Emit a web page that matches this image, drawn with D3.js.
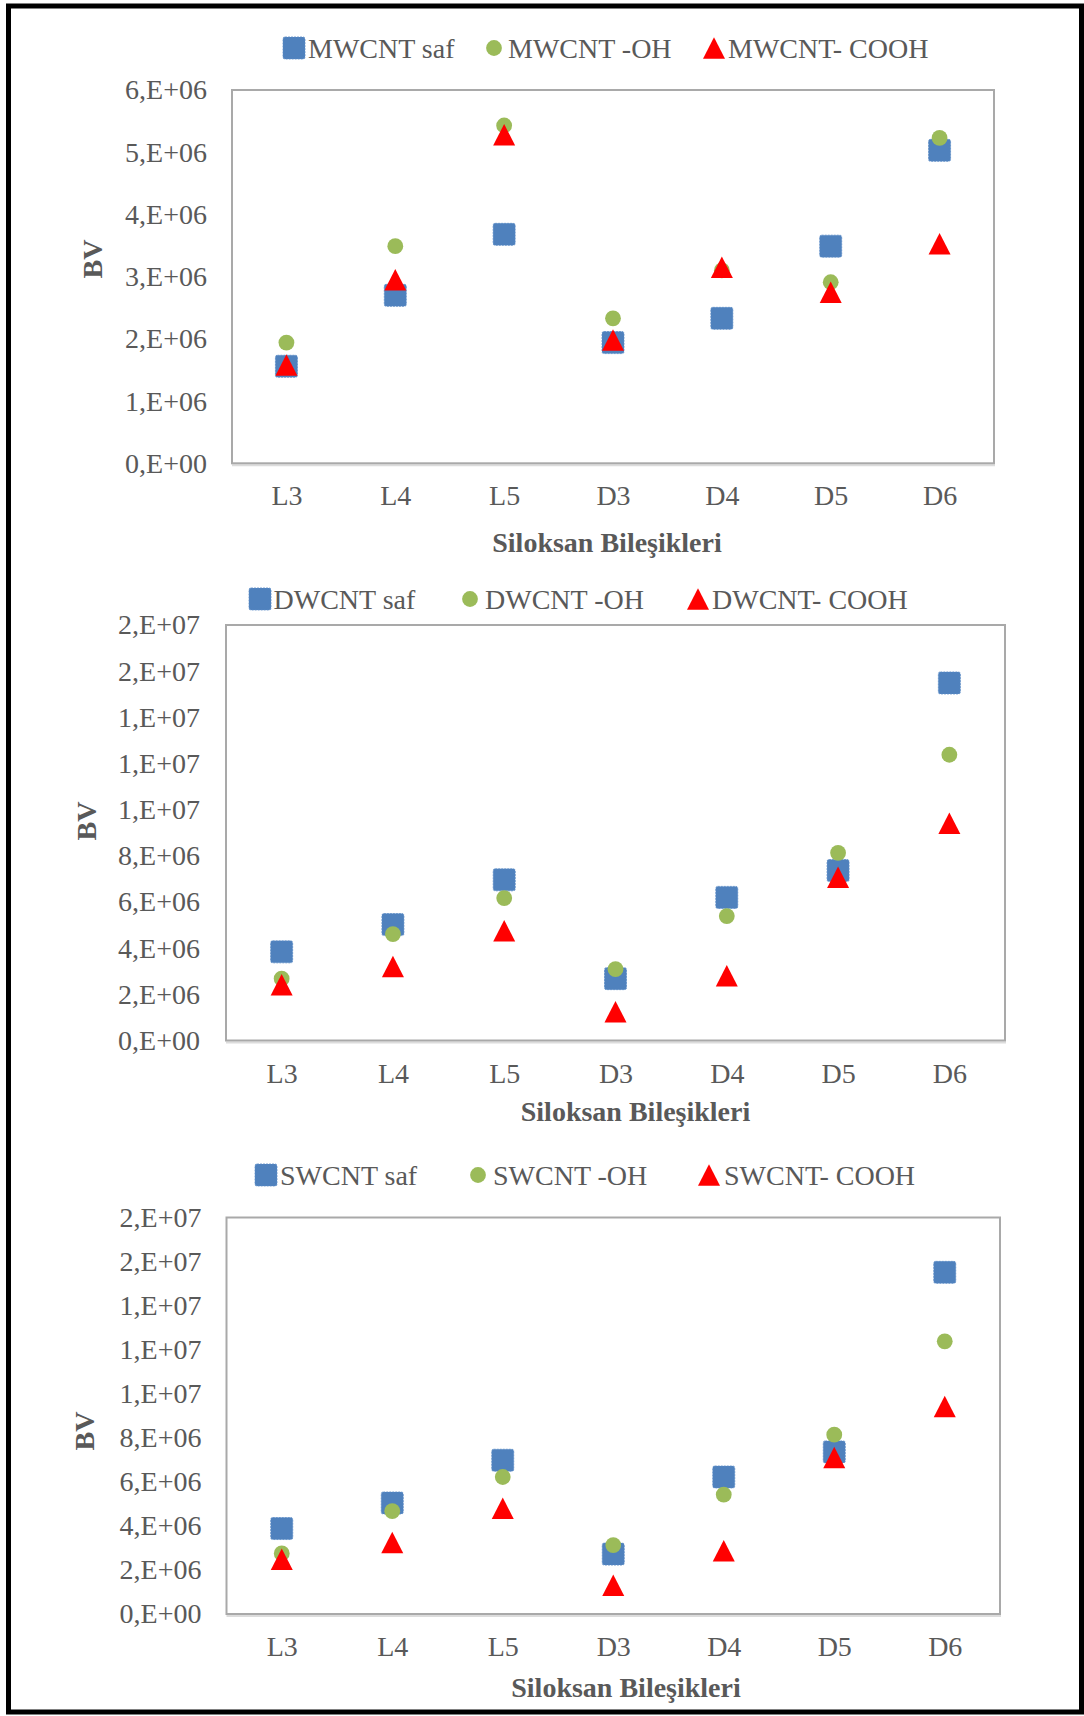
<!DOCTYPE html>
<html>
<head>
<meta charset="utf-8">
<script src="https://cdn.jsdelivr.net/npm/d3@7"></script>
<style>
  html, body { margin: 0; padding: 0; background: #ffffff; }
  svg { display: block; }
  text { font-family: "Liberation Serif", "Times New Roman", serif; fill: #595959; }
</style>
</head>
<body>
<svg id="fig" width="1084" height="1716"></svg>
<script>
// Siloxane compounds on the x axis
const categories = ["L3", "L4", "L5", "D3", "D4", "D5", "D6"];

// MWCNT series
const mwcntSaf  = [1.56e6, 2.70e6, 3.68e6, 1.94e6, 2.33e6, 3.49e6, 5.03e6];
const mwcntOH   = [1.94e6, 3.49e6, 5.43e6, 2.33e6, 3.10e6, 2.91e6, 5.23e6];
const mwcntCOOH = [1.58e6, 2.95e6, 5.28e6, 1.98e6, 3.15e6, 2.75e6, 3.53e6];

// DWCNT series
const dwcntSaf  = [3.84e6, 5.02e6, 6.96e6, 2.68e6, 6.20e6, 7.36e6, 15.49e6];
const dwcntOH   = [2.68e6, 4.61e6, 6.17e6, 3.09e6, 5.39e6, 8.13e6, 12.38e6];
const dwcntCOOH = [2.41e6, 3.21e6, 4.75e6, 1.25e6, 2.80e6, 7.07e6, 9.41e6];

// SWCNT series
const swcntSaf  = [3.88e6, 5.04e6, 6.98e6, 2.72e6, 6.22e6, 7.36e6, 15.51e6];
const swcntOH   = [2.75e6, 4.67e6, 6.22e6, 3.13e6, 5.42e6, 8.14e6, 12.38e6];
const swcntCOOH = [2.49e6, 3.25e6, 4.80e6, 1.31e6, 2.87e6, 7.10e6, 9.42e6];

// Legend names
const mwcntNames = ["MWCNT saf", "MWCNT -OH", "MWCNT- COOH"];
const dwcntNames = ["DWCNT saf", "DWCNT -OH", "DWCNT- COOH"];
const swcntNames = ["SWCNT saf", "SWCNT -OH", "SWCNT- COOH"];

// Y tick values
const mwcntTicks = [0, 1e6, 2e6, 3e6, 4e6, 5e6, 6e6];
const cntTicks   = [0, 2e6, 4e6, 6e6, 8e6, 10e6, 12e6, 14e6, 16e6, 18e6];

const xTitle = "Siloksan Bileşikleri";
const yTitle = "BV";

const FONT = 28;
const colors = { square: "#4f81bd", circle: "#9bbb59", triangle: "#ff0000" };

// Spreadsheet-style scientific label, e.g. 1.6e7 -> "2,E+07"
function sciLabel(v) {
  if (v === 0) return "0,E+00";
  let e = Math.floor(Math.log10(v));
  let m = Math.round(v / Math.pow(10, e));
  if (m === 10) { m = 1; e += 1; }
  return m + ",E+" + String(e).padStart(2, "0");
}

const svg = d3.select("#fig");

// outer black frame
svg.append("rect")
  .attr("x", 8.5).attr("y", 6).attr("width", 1073).attr("height", 1706)
  .attr("fill", "none").attr("stroke", "#000").attr("stroke-width", 5);

function squarePath(s) {
  const h = s / 2, r = 2;
  return `M${-h + r},${-h} H${h - r} Q${h},${-h} ${h},${-h + r} V${h - r} Q${h},${h} ${h - r},${h} H${-h + r} Q${-h},${h} ${-h},${h - r} V${-h + r} Q${-h},${-h} ${-h + r},${-h} Z`;
}
function trianglePath(w, h) {
  return `M0,${-h / 2} L${w / 2},${h / 2} L${-w / 2},${h / 2} Z`;
}

function drawMarker(g, kind, x, y) {
  if (kind === "square") {
    g.append("path").attr("d", squarePath(22))
      .attr("transform", `translate(${x},${y})`)
      .attr("fill", colors.square).attr("stroke", "#5b8bc6").attr("stroke-width", 0.8)
      .attr("stroke-dasharray", "2,1");
  } else if (kind === "circle") {
    g.append("circle").attr("cx", x).attr("cy", y).attr("r", 7.9)
      .attr("fill", colors.circle);
  } else {
    g.append("path").attr("d", trianglePath(22, 21.5))
      .attr("transform", `translate(${x},${y})`)
      .attr("fill", colors.triangle);
  }
}

function drawChart(cfg) {
  const g = svg.append("g");
  const x = d3.scalePoint().domain(categories).range([cfg.left, cfg.right]).padding(0.5);
  const y = d3.scaleLinear().domain([0, d3.max(cfg.ticks)]).range([cfg.bottom, cfg.top]);

  // plot area border
  g.append("line").attr("x1", cfg.left).attr("x2", cfg.right + 1)
    .attr("y1", cfg.bottom + 2).attr("y2", cfg.bottom + 2)
    .attr("stroke", "#dcdcdc").attr("stroke-width", 2);
  g.append("rect")
    .attr("x", cfg.left).attr("y", cfg.top)
    .attr("width", cfg.right - cfg.left).attr("height", cfg.bottom - cfg.top)
    .attr("fill", "none").attr("stroke", "#a9a9a9").attr("stroke-width", 2);

  // y axis labels
  const yAxis = g.append("g").attr("transform", `translate(${cfg.left},0)`)
    .call(d3.axisLeft(y).tickValues(cfg.ticks).tickFormat(sciLabel).tickSize(0).tickPadding(cfg.yPad));
  yAxis.select(".domain").remove();
  yAxis.selectAll("text").style("font-size", FONT + "px").attr("fill", "#595959")
    .style("font-family", '"Liberation Serif", "Times New Roman", serif');

  // x axis labels
  const xAxis = g.append("g").attr("transform", `translate(0,${cfg.bottom})`)
    .call(d3.axisBottom(x).tickSize(0).tickPadding(cfg.xPad));
  xAxis.select(".domain").remove();
  xAxis.selectAll("text").style("font-size", FONT + "px").attr("fill", "#595959")
    .style("font-family", '"Liberation Serif", "Times New Roman", serif');

  // axis titles
  g.append("text").attr("x", cfg.titleX).attr("y", cfg.titleY + 9.5)
    .attr("text-anchor", "middle").style("font-size", FONT + "px").style("font-weight", "bold")
    .text(xTitle);
  g.append("text").attr("transform", `translate(${cfg.bvX + 9.5},${cfg.bvY}) rotate(-90)`)
    .attr("text-anchor", "middle").style("font-size", FONT + "px").style("font-weight", "bold")
    .text(yTitle);

  // markers: series drawn in order, later ones on top
  const kinds = ["square", "circle", "triangle"];
  cfg.series.forEach((vals, si) => {
    const sg = g.append("g");
    vals.forEach((v, i) => drawMarker(sg, kinds[si], x(categories[i]), y(v)));
  });

  // legend
  const lg = g.append("g");
  cfg.names.forEach((name, i) => {
    const it = cfg.legend[i];
    drawMarker(lg, kinds[i], it.m, cfg.legendY);
    lg.append("text").attr("x", it.t).attr("y", cfg.legendY + 9.5)
      .style("font-size", FONT + "px").text(name);
  });
}

drawChart({
  left: 232, right: 994, top: 90, bottom: 463.3,
  ticks: mwcntTicks, yPad: 25, xPad: 22,
  titleX: 607, titleY: 542, bvX: 92, bvY: 259,
  series: [mwcntSaf, mwcntOH, mwcntCOOH], names: mwcntNames,
  legendY: 48,
  legend: [{ m: 294, t: 308 }, { m: 494, t: 508 }, { m: 714, t: 728 }]
});

drawChart({
  left: 226, right: 1005, top: 625, bottom: 1040.5,
  ticks: cntTicks, yPad: 26, xPad: 23,
  titleX: 635.5, titleY: 1111, bvX: 86, bvY: 821,
  series: [dwcntSaf, dwcntOH, dwcntCOOH], names: dwcntNames,
  legendY: 599,
  legend: [{ m: 260, t: 273.5 }, { m: 470, t: 485 }, { m: 698, t: 712 }]
});

drawChart({
  left: 226.5, right: 1000, top: 1217.5, bottom: 1614,
  ticks: cntTicks, yPad: 25, xPad: 22,
  titleX: 626, titleY: 1687, bvX: 84, bvY: 1431,
  series: [swcntSaf, swcntOH, swcntCOOH], names: swcntNames,
  legendY: 1175,
  legend: [{ m: 266, t: 280 }, { m: 478, t: 493 }, { m: 709, t: 724 }]
});
</script>
</body>
</html>
